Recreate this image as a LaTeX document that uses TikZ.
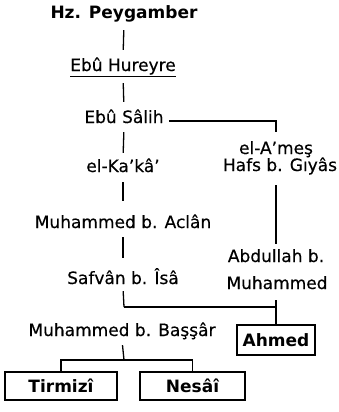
\documentclass[tikz,border=0pt]{standalone}
\usepackage{fontspec}
\setmainfont{DejaVu Sans}[FakeBold=0.4]
\newfontfamily\boldface{DejaVu Sans Bold}
\begin{document}
\begin{tikzpicture}[x=1pt,y=-1pt,
  lbl/.style={inner sep=0pt,text height=13pt,text depth=4pt,anchor=base,font=\fontsize{17}{17}\selectfont},
  bx/.style={draw,line width=1.4pt,inner sep=0pt,font=\fontsize{17}{17}\selectfont\boldface},
  ln/.style={line width=1.3pt}]
\path[use as bounding box] (0,0) rectangle (339,412);
% left column
\node[lbl,font=\fontsize{17}{17}\selectfont\boldface] (peyg) at (124,19) {Hz. Peygamber};
\node[lbl] (hur) at (123,71) {Ebû Hureyre};
\node[lbl] (sal) at (124,123) {Ebû Sâlih};
\node[lbl] (kaka) at (123,172) {el-Ka’kâ’};
\node[lbl] (aclan) at (123,228) {Muhammed b. Aclân};
\node[lbl] (safvan) at (123,284) {Safvân b. Îsâ};
\node[lbl] (bassar) at (122,336) {Muhammed b. Başşâr};
% right column
\node[lbl] (ames) at (276,154) {el-A’meş};
\node[lbl] (hafs) at (280,171) {Hafs b. Gıyâs};
\node[lbl] (abd) at (276,262) {Abdullah b.};
\node[lbl] (muh) at (277,289) {Muhammed};
% boxes
\node[bx,minimum width=78pt,minimum height=30pt] (ahmed) at (276,340) {Ahmed};
\node[bx,minimum width=112pt,minimum height=28pt] (tir) at (61,386) {Tirmizî};
\node[bx,minimum width=105pt,minimum height=28pt] (nes) at (192.5,386) {Nesâî};
\coordinate (j1) at (124,307);
\coordinate (j2) at (124,360);
% underline
\draw[ln] ([yshift=-1.5pt]hur.south west) -- ([yshift=-1.5pt]hur.south east);
% connectors
\draw[ln,shorten <=7pt,shorten >=8pt] (peyg.south) -- (hur.north);
\draw[ln,shorten <=8pt,shorten >=8pt] (hur.south) -- (sal.north);
\draw[ln,shorten <=5pt,shorten >=6pt] (sal.south) -- (kaka.north);
\draw[ln,shorten <=6pt,shorten >=14pt] (kaka.south) -- (aclan.north);
\draw[ln,shorten <=5pt,shorten >=13pt] (aclan.south) -- (safvan.north);
\draw[ln,shorten <=3pt] (safvan.south) -- (j1);
\draw[ln] (j1) -- (j1 -| ahmed.north);
\draw[ln,shorten <=7pt] (ahmed.north |- muh.south) -- (ahmed.north);
\draw[ln,shorten <=5pt] (bassar.south) -- (j2);
\draw[ln] (tir.north) |- (nes.north |- j2) -- (nes.north);
\draw[ln,shorten >=9pt] ([xshift=5pt,yshift=2pt]sal.base east) -| (ames.north);
\draw[ln,shorten <=10pt,shorten >=5pt] (ames.north |- hafs.south) -- (ames.north |- abd.north);
\end{tikzpicture}
\end{document}
